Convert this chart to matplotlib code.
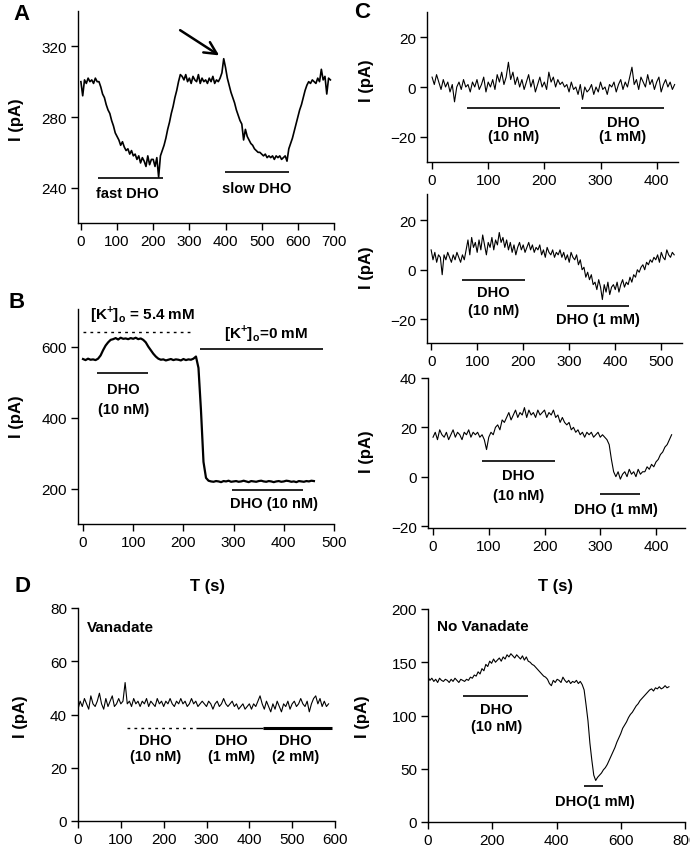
import numpy as np
import matplotlib
matplotlib.use("Agg")
import matplotlib.pyplot as plt

plt.rcParams['font.family'] = ['Liberation Sans', 'DejaVu Sans']
plt.rcParams['mathtext.fontset'] = 'custom'
plt.rcParams['mathtext.rm'] = 'Liberation Sans'
plt.rcParams['mathtext.bf'] = 'Liberation Sans:bold'

# ---------------- data ----------------
# Panel A (I in pA, sampled every 5 s)
tA = np.arange(0, 695, 5)
iA = [300, 292, 301, 299, 302, 300, 301, 299, 302, 300,
      300, 297, 293, 291, 287, 284, 282, 278, 275, 271,
      269, 267, 264, 266, 263, 261, 262, 259, 261, 258,
      259, 256, 258, 254, 257, 255, 252, 258, 253, 256,
      256, 252, 257, 246, 258, 261, 264, 268, 273, 277,
      282, 286, 291, 295, 300, 304, 303, 301, 304, 300,
      302, 299, 303, 301, 300, 304, 299, 302, 300, 301,
      299, 302, 300, 303, 299, 301, 300, 302, 305, 313,
      308, 302, 298, 294, 291, 288, 284, 281, 278, 276,
      267, 273, 269, 267, 265, 264, 262, 261, 260, 260,
      259, 258, 259, 257, 258, 257, 258, 256, 258, 257,
      258, 256, 257, 258, 255, 262, 265, 268, 272, 276,
      280, 284, 287, 291, 295, 298, 300, 299, 301, 300,
      299, 302, 300, 307, 301, 303, 293, 302, 301]

# Panel B
tB = np.arange(0, 465, 5)
iB = [565, 562, 566, 563, 564, 562,
      566, 575, 590, 603, 612, 619,
      621, 624, 620, 625, 622, 623, 621, 624,
      622, 625, 621, 623, 619, 612,
      600, 590, 580, 572, 566, 563,
      564, 561, 563, 565, 562, 564, 563, 561, 565, 562, 564, 563,
      566, 572, 540, 420, 275, 230, 222,
      220, 219, 221, 220, 218, 221, 220, 222, 219, 220, 221, 219, 220, 222,
      220, 218, 221, 220, 219, 221, 222, 220, 219, 221, 220, 218, 220, 221,
      219, 220, 222, 221, 219, 220, 218, 221, 220, 219, 221, 220, 222, 221]

# Panel C (top)
tC1 = np.arange(0, 436, 4)
iC1 = [4, 1, 5, 2, -1, 3, 0, 2, -2, 1,
       -6, 0, 2, -1, 3, 0, 1, -2, 2, 0,
       3, -1, 1, 4, -2, 2, 0, 3, -1, 5,
       2, 6, 1, 4, 10, 3, 6, 1, 4, 0,
       3, -1, 2, 5, 0, 3, -2, 1, 4, 0,
       2, -1, 6, 2, 4, 0, 3, 1, 2, 0,
       1, -2, 2, -1, 0, -3, 1, -5, 0, -2,
       -1, 1, -3, 0, -2, 2, -1, 0, -3, 1,
       0, 2, -2, 1, 3, -1, 2, 0, 4, 8,
       1, 3, -1, 4, 2, 0, 5, 1, 3, -1,
       2, 4, -2, 1, 3, 0, 2, -1, 1]

# Panel C (middle)
tC2 = np.arange(0, 532, 4)
iC2 = [8, 4, 7, 3, 6, 5, -2, 6, 4, 7,
       5, 3, 6, 4, 7, 5, 3, 6, 4, 8,
       12, 6, 13, 9, 11, 7, 12, 8, 14, 10,
       6, 11, 9, 13, 8, 12, 10, 15, 11, 13,
       9, 12, 8, 11, 7, 10, 6, 9, 11, 8,
       10, 7, 9, 11, 8, 10, 7, 9, 8, 10,
       6, 8, 5, 9, 7, 6, 8, 5, 7, 6,
       8, 5, 7, 4, 6, 3, 7, 5, 4, 6,
       2, 4, 0, 1, -3, -1, -4, -2, -6, -5,
       -8, -4, -7, -12, -6, -9, -5, -10, -7, -6,
       -8, -5, -9, -6, -4, -7, -5, -6, -3, -5,
       -2, -3, 0, -1, 1, 2, 0, 3, 2, 4,
       3, 5, 4, 6, 3, 7, 5, 4, 8, 6, 5, 7, 6]

# Panel C (bottom)
tC3 = np.arange(0, 432, 4)
iC3 = [16, 18, 15, 19, 17, 16, 18, 15, 17, 19,
       16, 18, 17, 15, 18, 17, 19, 16, 18, 17,
       18, 16, 17, 15, 11, 16, 18, 17, 20, 21,
       19, 23, 22, 24, 26, 23, 25, 27, 24, 26,
       25, 28, 24, 27, 25, 26, 24, 27, 25, 26,
       27, 24, 26, 25, 27, 24, 25, 22, 24, 22,
       21, 22, 19, 20, 18, 19, 17, 18, 16, 18,
       17, 18, 16, 17, 18, 16, 17, 16, 15, 13,
       7, 2, 0, 2, -1, 1, 2, 0, 3, 1,
       2, 0, 3, 1, 2, 2, 4, 3, 5, 4,
       6, 7, 9, 10, 12, 13, 15, 17]

# Panel D (Vanadate)
tD1 = np.arange(0, 590, 5)
iD1 = [42, 45, 43, 46, 44, 42, 47, 44, 43, 45,
       48, 44, 42, 46, 43, 45, 47, 43, 44, 46,
       44, 45, 52, 44, 45, 43, 46, 44, 45, 43,
       45, 44, 46, 43, 45, 44, 43, 46, 44, 45,
       43, 45, 44, 46, 44, 43, 45, 44, 46, 44,
       45, 43, 44, 46, 44, 45, 43, 44, 45, 44,
       43, 45, 44, 42, 44, 45, 43, 44, 46, 44,
       43, 44, 45, 43, 44, 42, 43, 44, 42, 43,
       44, 42, 44, 43, 45, 47, 44, 42, 45, 43,
       41, 44, 42, 45, 43, 41, 44, 43, 45, 42,
       44, 45, 43, 44, 46, 44, 43, 45, 41, 44,
       46, 47, 44, 46, 43, 45, 43, 44]

# Panel D (No Vanadate)
tD2 = np.arange(0, 756, 6)
iD2 = [136, 133, 135, 132, 134, 131, 135, 133, 132, 134,
       133, 131, 134, 132, 135, 133, 131, 134, 133, 132,
       134, 133, 136, 135, 138, 137, 141, 139, 144, 142,
       148, 146, 151, 149, 153, 150, 152, 154, 151, 155,
       153, 157, 155, 158, 156, 154, 157, 155, 153, 156,
       152, 155, 151, 150, 148, 147, 145, 143, 141, 139,
       137, 136, 134, 130, 128, 133, 131, 134, 133, 131,
       136, 133, 131, 133, 130, 132, 131, 133, 130, 132,
       129, 124, 110, 95, 74, 58, 44, 39, 42, 44,
       46, 49, 51, 54, 58, 62, 66, 70, 75, 79,
       83, 88, 91, 94, 98, 101, 103, 106, 109, 111,
       114, 116, 118, 120, 122, 124, 125, 123, 126, 125,
       127, 125, 126, 128, 126, 127]

# ---------------- figure ----------------
W, H = 690, 853
fig = plt.figure(figsize=(W / 100, H / 100), dpi=100)


def add_ax(l, r, t, b, xlim, ylim, xticks, yticks):
    ax = fig.add_axes([l / W, 1 - b / H, (r - l) / W, (b - t) / H])
    ax.set_xlim(*xlim)
    ax.set_ylim(*ylim)
    ax.set_xticks(xticks)
    ax.set_yticks(yticks)
    for s in ('top', 'right'):
        ax.spines[s].set_visible(False)
    for s in ('left', 'bottom'):
        ax.spines[s].set_linewidth(1.0)
    ax.tick_params(direction='out', length=5, width=1, labelsize=11, pad=3)
    ax.patch.set_alpha(0)
    return ax


def ftext(x, y, s, **kw):
    fig.text(x / W, 1 - y / H, s, ha='center', va='center', **kw)


def bar(ax, x0, x1, y, **kw):
    kw.setdefault('color', 'black')
    kw.setdefault('lw', 1.2)
    ax.plot([x0, x1], [y, y], solid_capstyle='butt', clip_on=False, **kw)


def lab(ax, x, y, s, size=10.5, ha='center'):
    ax.text(x, y, s, ha=ha, va='center', fontsize=size, fontweight='bold',
            clip_on=False)


# Panel A
axA = add_ax(78, 334, 12, 224, (-8, 700), (220, 340), range(0, 701, 100), [240, 280, 320])
axA.plot(tA, iA, color='black', lw=1.2)
bar(axA, 48, 227, 245.5)
bar(axA, 398, 575, 249)
lab(axA, 129, 237, 'fast DHO')
lab(axA, 485, 240, 'slow DHO')
axA.annotate('', xy=(389, 314), xytext=(268, 330),
             arrowprops=dict(arrowstyle='->', lw=1.8, mutation_scale=22, color='black'),
             annotation_clip=False)

# Panel B
axB = add_ax(78, 334, 310, 525, (-10, 500), (100, 706), range(0, 501, 100), [200, 400, 600])
axB.plot(tB, iB, color='black', lw=1.6)
bar(axB, 0, 219, 642, ls=(0, (2, 3)), lw=1.0)
bar(axB, 233, 478, 593.5)
bar(axB, 27, 130, 526)
bar(axB, 296, 439, 195)
lab(axB, 119, 692, r'[K$^{\mathbf{+}}$]$_{\mathbf{o}}$ = 5.4 mM', size=11)
lab(axB, 365, 641, r'[K$^{\mathbf{+}}$]$_{\mathbf{o}}$=0 mM', size=11)
lab(axB, 80, 481, 'DHO')
lab(axB, 80, 425, '(10 nM)')
lab(axB, 380, 158, 'DHO (10 nM)')

# Panel C top
axC1 = add_ax(427, 678, 13, 163, (-9, 438), (-30.3, 30.3), range(0, 401, 100), [-20, 0, 20])
axC1.plot(tC1, iC1, color='black', lw=0.8)
bar(axC1, 62, 228, -8.6)
bar(axC1, 266, 413, -8.6)
lab(axC1, 145, -14, 'DHO')
lab(axC1, 145, -19.6, '(10 nM)')
lab(axC1, 340, -14, 'DHO')
lab(axC1, 340, -19.6, '(1 mM)')

# Panel C middle
axC2 = add_ax(427, 682, 195, 344, (-9, 545), (-29.5, 30.5), range(0, 501, 100), [-20, 0, 20])
axC2.plot(tC2, iC2, color='black', lw=0.8)
bar(axC2, 68, 204, -4)
bar(axC2, 295, 430, -14.4)
lab(axC2, 135, -8.9, 'DHO')
lab(axC2, 135, -16.4, '(10 nM)')
lab(axC2, 363, -19.8, 'DHO (1 mM)')

# Panel C bottom
axC3 = add_ax(428, 685, 379, 529, (-9, 452), (-20.8, 40), range(0, 401, 100), [-20, 0, 20, 40])
axC3.plot(tC3, iC3, color='black', lw=0.8)
bar(axC3, 87, 219, 6.4)
bar(axC3, 299, 371, -7.2)
lab(axC3, 153, 0.5, 'DHO')
lab(axC3, 153, -7.6, '(10 nM)')
lab(axC3, 329, -13.3, 'DHO (1 mM)')

# Panel D left
axD1 = add_ax(78, 335, 609, 822, (0, 600), (0, 80), range(0, 601, 100), range(0, 81, 20))
axD1.plot(tD1, iD1, color='black', lw=0.8)
bar(axD1, 114, 273, 35, ls=(0, (2, 3)), lw=1.0)
bar(axD1, 276, 432, 35, lw=1.0)
bar(axD1, 432, 593, 35, lw=2.2)
lab(axD1, 21, 72.7, 'Vanadate', size=11, ha='left')
for xc, conc in [(181, '(10 nM)'), (359, '(1 mM)'), (507, '(2 mM)')]:
    lab(axD1, xc, 30.5, 'DHO')
    lab(axD1, xc, 24.5, conc)

# Panel D right
axD2 = add_ax(428, 685, 610, 823, (0, 800), (0, 200), range(0, 801, 200), range(0, 201, 50))
axD2.plot(tD2, iD2, color='black', lw=0.8)
bar(axD2, 110, 311, 118)
bar(axD2, 486, 546, 33.5)
lab(axD2, 27, 184, 'No Vanadate', size=11, ha='left')
lab(axD2, 213, 106, 'DHO')
lab(axD2, 213, 90.4, '(10 nM)')
lab(axD2, 518, 20, 'DHO(1 mM)')

# axis labels
for x, y in [(16, 120), (16, 417), (366, 81), (366, 268), (366, 452), (20, 717), (363, 717)]:
    ftext(x, y, 'I (pA)', rotation=90, fontsize=12, fontweight='bold')
ftext(207, 587, 'T (s)', fontsize=12, fontweight='bold')
ftext(555, 587, 'T (s)', fontsize=12, fontweight='bold')

# panel letters
for x, y, s in [(22, 15, 'A'), (17, 303, 'B'), (362, 13, 'C'), (23, 587, 'D')]:
    ftext(x, y, s, fontsize=16, fontweight='bold')

fig.savefig('out.png', dpi=100)
